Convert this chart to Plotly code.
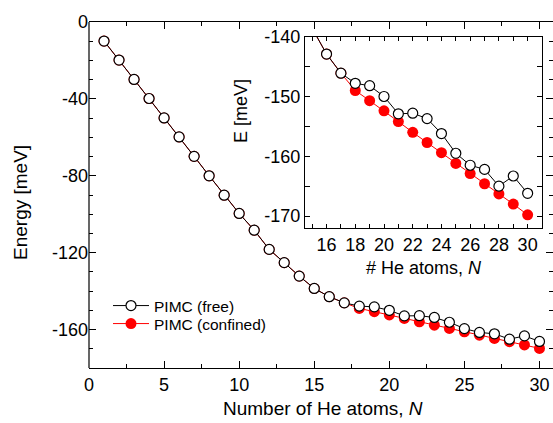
import plotly.graph_objects as go

N = list(range(1, 31))
E_free = [-9.9, -19.8, -29.9, -39.8, -49.9, -59.8, -69.9, -80.0, -90.1, -99.6,
          -108.3, -118.3, -125.2, -132.2, -138.6, -142.9, -146.1, -147.8, -148.2, -150.0,
          -152.9, -152.8, -153.7, -156.2, -159.5, -161.5, -162.2, -165.0, -163.3, -166.2]
E_conf = [-9.9, -19.8, -29.9, -39.8, -49.9, -59.8, -69.9, -80.0, -90.1, -99.6,
          -108.3, -118.3, -125.2, -132.2, -138.6, -142.9, -146.1, -149.0, -150.7, -152.4,
          -154.2, -156.0, -157.7, -159.4, -161.2, -162.9, -164.6, -166.3, -168.0, -169.8]

main_xticks = [0, 5, 10, 15, 20, 25, 30]
main_yticks = [0, -40, -80, -120, -160]
inset_xticks = [16, 18, 20, 22, 24, 26, 28, 30]
inset_yticks = [-140, -150, -160, -170]

FONT = "Liberation Sans, Arial, sans-serif"
W, H = 553, 423
ML, MR, MT, MB = 89, 0, 22, 55
PW, PH = W - ML - MR, H - MT - MB

def px_x(p):
    return (p - ML) / PW

def px_y(p):
    return (H - MB - p) / PH

def labels(vals):
    return [str(v) for v in vals]

fig = go.Figure()

for xa, ya, show in (("x", "y", True), ("x2", "y2", False)):
    fig.add_trace(go.Scatter(
        x=N, y=E_conf, mode="lines+markers", name="PIMC (confined)",
        xaxis=xa, yaxis=ya, showlegend=show, legend="legend2",
        line=dict(color="#ff0000", width=1),
        marker=dict(symbol="circle", size=11, color="#ff0000", line=dict(width=0)),
    ))
    fig.add_trace(go.Scatter(
        x=N, y=E_free, mode="lines+markers", name="PIMC (free)",
        xaxis=xa, yaxis=ya, showlegend=show, legend="legend",
        line=dict(color="black", width=1),
        marker=dict(symbol="circle", size=10, color="white", line=dict(color="black", width=1.2)),
    ))

tickfont = dict(family=FONT, size=18, color="black")
common = dict(showgrid=False, zeroline=False, ticks="inside", tickcolor="black",
              linecolor="black", linewidth=1.2, tickwidth=1.2, tickfont=tickfont)

def ann(text, x, y, size, angle=0):
    return dict(text=text, x=px_x(x), y=px_y(y), xref="paper", yref="paper",
                xanchor="center", yanchor="middle", textangle=angle, showarrow=False,
                font=dict(family=FONT, size=size, color="black"))

def leg(x, y):
    return dict(x=px_x(x), y=px_y(y), xanchor="left", yanchor="top", itemwidth=36,
                bgcolor="rgba(0,0,0,0)", font=dict(family=FONT, size=15.5, color="black"))

fig.update_layout(
    width=W, height=H, margin=dict(l=ML, r=MR, t=MT, b=MB),
    paper_bgcolor="white", plot_bgcolor="rgba(0,0,0,0)",
    xaxis=dict(domain=[0, 1], range=[0, 30.9], tickvals=main_xticks, ticktext=labels(main_xticks), ticklen=7,
               minor=dict(dtick=2.5, tick0=0, ticks="inside", ticklen=4, tickcolor="black", tickwidth=1.2),
               showline=True, mirror="ticks", anchor="y", **common),
    yaxis=dict(domain=[0, 1], range=[-180, 0], tickvals=main_yticks, ticktext=labels(main_yticks), ticklen=7,
               minor=dict(dtick=10, tick0=0, ticks="inside", ticklen=4, tickcolor="black", tickwidth=1.2),
               showline=False, mirror="ticks", anchor="x", **common),
    xaxis2=dict(domain=[px_x(305), px_x(542)], range=[14.5, 31], tickvals=inset_xticks,
                ticktext=labels(inset_xticks), ticklen=4,
                minor=dict(dtick=1, tick0=0, ticks="inside", ticklen=4, tickcolor="black", tickwidth=1.2),
                showline=True, mirror="ticks", anchor="y2", **common),
    yaxis2=dict(domain=[px_y(228), px_y(36.7)], range=[-172, -140], tickvals=inset_yticks,
                ticktext=labels(inset_yticks), ticklen=5,
                minor=dict(dtick=5, tick0=0, ticks="inside", ticklen=5, tickcolor="black", tickwidth=1.2),
                showline=True, mirror="ticks", anchor="x2", **common),
    legend=leg(108, 289),
    legend2=leg(108, 307),
    shapes=[dict(type="line", xref="paper", yref="paper", x0=0, x1=0, y0=0, y1=1,
                 line=dict(color="black", width=1.2))],
    annotations=[
        ann("Energy [meV]", 20, 203, 19, -90),
        ann("Number of He atoms, <i>N</i>", 323, 408, 19),
        ann("E [meV]", 241, 111, 18, -90),
        ann("# He atoms, <i>N</i>", 424, 268, 18),
    ],
)

fig.write_html("out.html")
